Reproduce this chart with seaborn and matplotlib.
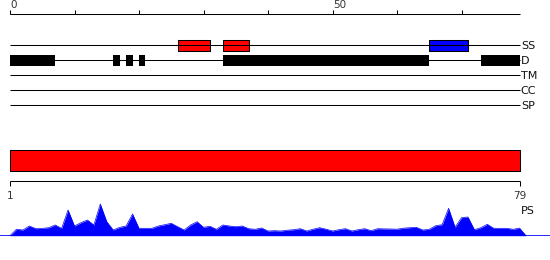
import matplotlib
matplotlib.use("Agg")
import numpy as np
import pandas as pd
import seaborn as sns
import matplotlib.pyplot as plt

# ---------------- data ----------------
seq_len = 79
top_ticks = [0, 10, 20, 30, 40, 50, 60, 70]
top_tick_labels = ["0", "", "", "", "", "50", "", ""]
track_names = ["SS", "D", "TM", "CC", "SP"]
helix = [(26, 31), (33, 37)]          # red SS boxes
strand = [(65, 71)]                   # blue SS boxes
disorder = [(0, 7), (16, 17), (18, 19), (20, 21), (33, 65), (73, 79)]
domain = [(0, 79)]                    # red PS domain bar
ps_axis_labels = ["1", "79"]
profile = [0, 6.4, 5.7, 9.7, 7, 7.3, 8, 10.7, 7.3, 25.7,
           9.7, 13, 15.7, 10.7, 31.7, 14, 5.7, 8.3, 9.7, 21.7,
           7.4, 7.4, 7.4, 9.7, 11, 12.4, 9, 5.7, 10.7, 14,
           8.4, 9.4, 6.4, 10.7, 9.7, 9, 9.7, 7, 6.4, 7.7,
           4.7, 5, 4.7, 5.5, 6, 7, 4.7, 6.5, 8, 6.5,
           4.7, 6, 7, 4.7, 6, 7, 5, 7, 6.8, 6.7,
           6.5, 7.5, 8, 8.4, 5.7, 6.4, 10, 11, 27.4, 8.4,
           18, 18.7, 6, 8, 11.4, 7.4, 7.4, 7.4, 6.4, 7.6, 0]
profile_df = pd.DataFrame({"pos": np.arange(len(profile)), "score": profile})

# ---------------- style ----------------
sns.set_theme(style="white")
plt.rcParams["font.family"] = ["DejaVu Sans"]

W, H, DPI = 550, 260, 100
fig = plt.figure(figsize=(W / DPI, H / DPI), dpi=DPI)
px = 6.45          # pixels per residue
x0 = 10            # pixel where residue 0 sits
xlim = (-x0 / px, (W - x0) / px)
lw = 0.75

ax = fig.add_axes([0, 0, 1, 1])
ax.set_xlim(*xlim)
ax.set_ylim(H, 0)
ax.set_axis_off()

# top ruler
ax.hlines(14, 0, seq_len, color="black", lw=lw)
ax.vlines(top_ticks, 9.5, 14, color="black", lw=lw)
for t, lab in zip(top_ticks, top_tick_labels):
    if lab:
        ax.text(t + 0.05, 10.5, lab, fontsize=7.5, color="#333333",
                ha="left", va="bottom")

# tracks
track_y = [45, 60, 75, 90, 105]
for name, y in zip(track_names, track_y):
    ax.hlines(y, 0, seq_len, color="black", lw=lw)
    ax.text(seq_len + 0.2, y + 0.8, name, fontsize=8, color="#111111",
            ha="left", va="center")

ax.broken_barh([(s, e - s) for s, e in helix], (40, 10.5),
               facecolors="#ff0000", edgecolors="black", linewidths=lw)
ax.broken_barh([(s, e - s) for s, e in strand], (40, 10.5),
               facecolors="#0000ff", edgecolors="black", linewidths=lw)
ax.broken_barh([(s, e - s) for s, e in disorder], (55, 11),
               facecolors="black", edgecolors="none")

# domain bar
ax.broken_barh([(s, e - s) for s, e in domain], (150, 20.5),
               facecolors="#ff0000", edgecolors="black", linewidths=lw)

# bottom ruler
ax.hlines(180.5, 0, seq_len, color="black", lw=lw)
ax.vlines([0, seq_len], 180.5, 185.5, color="black", lw=lw)
ax.text(0.05, 196, ps_axis_labels[0], fontsize=7.5, color="#333333",
        ha="center", va="center")
ax.text(seq_len, 196, ps_axis_labels[1], fontsize=7.5, color="#333333",
        ha="center", va="center")
ax.text(seq_len + 0.2, 211, "PS", fontsize=8, color="#111111",
        ha="left", va="center")

# profile
base_px = 235.7
ph = 40
axp = fig.add_axes([0, 1 - base_px / H, 1, ph / H])
axp.set_xlim(*xlim)
axp.set_ylim(0, ph)
axp.set_axis_off()
axp.fill_between(profile_df["pos"], 0, profile_df["score"],
                 color="#0000ff", lw=0)
sns.lineplot(data=profile_df, x="pos", y="score", ax=axp,
             color="#0000ff", lw=0.5)
axp.axhline(0, color="#0000ff", lw=1.2)
axp.set_xlabel("")
axp.set_ylabel("")

fig.savefig("out.png", dpi=DPI)
